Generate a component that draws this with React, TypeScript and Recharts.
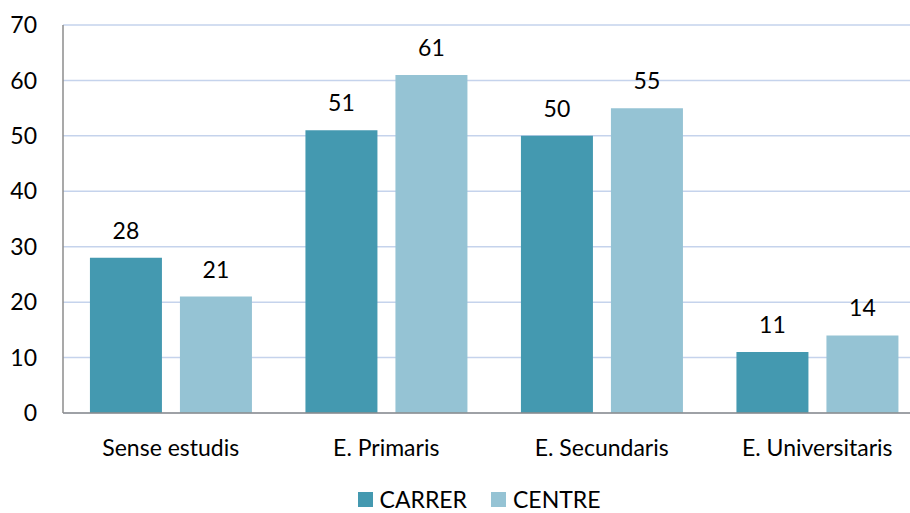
import { BarChart, Bar, XAxis, YAxis, CartesianGrid, Legend, LabelList } from 'recharts';

const categories = ['Sense estudis', 'E. Primaris', 'E. Secundaris', 'E. Universitaris'];
const carrer = [28, 51, 50, 11];
const centre = [21, 61, 55, 14];
const yTicks = [0, 10, 20, 30, 40, 50, 60, 70];

const data = categories.map((name, i) => ({ name, CARRER: carrer[i], CENTRE: centre[i] }));

const FONT = 'Lato, "Open Sans", sans-serif';
const FS = 23;
const DARK = '#4499B0';
const LIGHT = '#95C3D4';

function LegendContent() {
  const items = [
    { label: 'CARRER', color: DARK },
    { label: 'CENTRE', color: LIGHT },
  ];
  return (
    <div
      style={{
        height: 45,
        width: 910,
        display: 'flex',
        alignItems: 'flex-end',
        justifyContent: 'center',
        paddingLeft: 48,
        paddingBottom: 4,
        boxSizing: 'border-box',
        fontFamily: FONT,
        fontSize: FS,
        lineHeight: '20px',
        color: '#000',
      }}
    >
      {items.map((it) => (
        <div key={it.label} style={{ display: 'flex', alignItems: 'center', margin: '0 12px', height: 20 }}>
          <span style={{ width: 15, height: 15, background: it.color, marginRight: 7, display: 'inline-block' }} />
          <span>{it.label}</span>
        </div>
      ))}
    </div>
  );
}

export default function App() {
  return (
    <div style={{ position: 'absolute', left: 0, top: 0, width: 910, height: 513, overflow: 'hidden', background: '#fff' }}>
      <BarChart
        width={925}
        height={513}
        data={data}
        margin={{ top: 25, right: 0, bottom: 0, left: 0 }}
        barCategoryGap="12.5%"
        barGap={18}
      >
        <CartesianGrid vertical={false} stroke="#C5D3EC" strokeWidth={1.5} />
        <XAxis
          dataKey="name"
          height={55}
          tickLine={false}
          tickSize={0}
          tickMargin={27}
          axisLine={{ stroke: '#8C8C8C', strokeWidth: 1.5 }}
          tick={{ fill: '#000', fontSize: FS, fontFamily: FONT }}
        />
        <YAxis
          width={63}
          domain={[0, 70]}
          ticks={yTicks}
          interval={0}
          tickLine={false}
          tickSize={0}
          tickMargin={26}
          axisLine={{ stroke: '#8C8C8C', strokeWidth: 1.5 }}
          tick={{ fill: '#000', fontSize: FS, fontFamily: FONT }}
        />
        <Legend verticalAlign="bottom" align="left" height={45} content={<LegendContent />} />
        <Bar dataKey="CARRER" fill={DARK} isAnimationActive={false}>
          <LabelList dataKey="CARRER" position="top" offset={19} fill="#000" fontSize={FS} fontFamily={FONT} />
        </Bar>
        <Bar dataKey="CENTRE" fill={LIGHT} isAnimationActive={false}>
          <LabelList dataKey="CENTRE" position="top" offset={19} fill="#000" fontSize={FS} fontFamily={FONT} />
        </Bar>
      </BarChart>
    </div>
  );
}
